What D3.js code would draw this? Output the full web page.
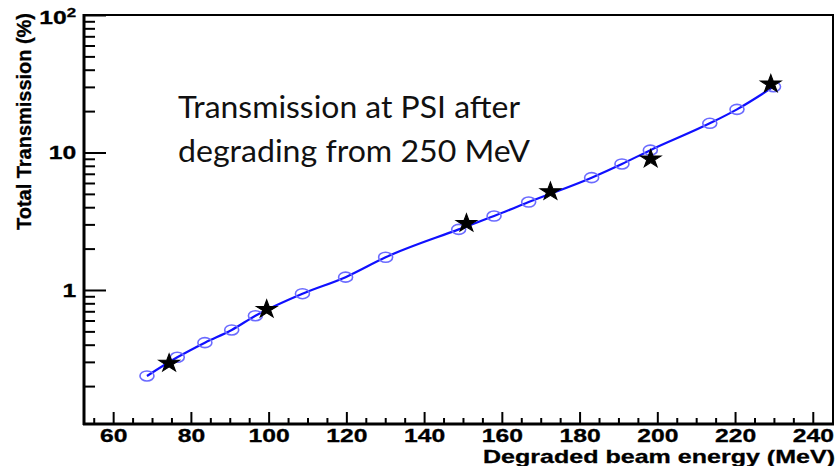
<!DOCTYPE html>
<html>
<head>
<meta charset="utf-8">
<script src="https://cdn.jsdelivr.net/npm/d3@7"></script>
<style>
  body { margin: 0; background: #fff; }
  svg { display: block; }
  .tick text { font-family: "Liberation Sans", Arial, sans-serif; font-weight: bold; }
</style>
</head>
<body>
<svg id="chart" width="836" height="466"></svg>
<script>
// simulated / measured transmission (open circles, blue line)
const energyMeV = [68.7, 76.5, 83.6, 90.5, 96.6, 108.7, 119.8, 130.1, 148.9, 158.0, 166.9, 183.1, 190.9, 198.2, 213.5, 220.5, 229.9];
const transmission = [0.237, 0.324, 0.414, 0.512, 0.650, 0.94, 1.24, 1.73, 2.76, 3.45, 4.36, 6.56, 8.25, 10.4, 16.3, 20.6, 30.1];

// stars
const starEnergy = [74.4, 99.5, 150.9, 172.5, 198.3, 229.2];
const starTransmission = [0.293, 0.723, 3.05, 5.19, 8.97, 31.5];

const xMajor = [60, 80, 100, 120, 140, 160, 180, 200, 220, 240];
const xMinor = d3.range(55, 245, 5).filter((v) => v % 20 !== 0);
const yMajor = [1, 10, 100];
const yMinor = [0.2, 0.3, 0.4, 0.5, 0.6, 0.7, 0.8, 0.9, 2, 3, 4, 5, 6, 7, 8, 9, 20, 30, 40, 50, 60, 70, 80, 90];

const svg = d3.select("#chart");
const mLeft = 84, mRight = 833, mTop = 15, mBottom = 424;
const stretch = 1.3; // les textes de l'image sont étirés horizontalement

const x = d3.scaleLinear().domain([52.5, 245.2]).range([mLeft, mRight]);
const y = d3.scaleLog().domain([0.106, 100]).range([mBottom, mTop]);

// axe X : graduations vers le haut
svg.append("g")
  .attr("transform", `translate(0,${mBottom})`)
  .call(d3.axisBottom(x).tickValues(xMinor).tickSizeInner(-6).tickSizeOuter(0).tickFormat(""))
  .call((g) => g.select(".domain").remove())
  .selectAll("line").attr("stroke", "#000").attr("stroke-width", 2);

const xAxis = svg.append("g")
  .attr("transform", `translate(0,${mBottom})`)
  .call(d3.axisBottom(x).tickValues(xMajor).tickSizeInner(-12).tickSizeOuter(0).tickPadding(5));
xAxis.select(".domain").remove();
xAxis.selectAll("line").attr("stroke", "#000").attr("stroke-width", 2);
xAxis.selectAll("text")
  .attr("font-size", 19)
  .attr("fill", "#000")
  .attr("stroke", "#000").attr("stroke-width", 0.3)
  .attr("transform", `scale(${stretch},1)`);

// axe Y : graduations vers la droite
svg.append("g")
  .attr("transform", `translate(${mLeft},0)`)
  .call(d3.axisLeft(y).tickValues(yMinor).tickSizeInner(-11).tickSizeOuter(0).tickFormat(""))
  .call((g) => g.select(".domain").remove())
  .selectAll("line").attr("stroke", "#000").attr("stroke-width", 2);

const yAxis = svg.append("g")
  .attr("transform", `translate(${mLeft},0)`)
  .call(d3.axisLeft(y).tickValues(yMajor).tickSizeInner(-22).tickSizeOuter(0).tickPadding(6)
    .tickFormat((d) => (d === 100 ? "10" : d3.format("d")(d))));
yAxis.select(".domain").remove();
yAxis.selectAll("line").attr("stroke", "#000").attr("stroke-width", 2);
yAxis.selectAll("text")
  .attr("font-size", 19)
  .attr("fill", "#000")
  .attr("stroke", "#000").attr("stroke-width", 0.3)
  .attr("transform", `scale(${stretch},1)`);
yAxis.selectAll(".tick")
  .filter((d) => d === 100)
  .select("text")
  .attr("dy", "0.45em")
  .append("tspan")
  .attr("font-size", 13)
  .attr("dy", "-0.55em")
  .text("2");

// cadre
svg.append("rect")
  .attr("x", mLeft).attr("y", mTop)
  .attr("width", mRight - mLeft).attr("height", mBottom - mTop)
  .attr("fill", "none").attr("stroke", "#000").attr("stroke-width", 2);
svg.append("line").attr("x1", mLeft).attr("x2", mLeft).attr("y1", mTop - 1).attr("y2", mBottom + 1)
  .attr("stroke", "#000").attr("stroke-width", 3);
svg.append("line").attr("x1", mLeft - 1).attr("x2", mRight + 1).attr("y1", mBottom).attr("y2", mBottom)
  .attr("stroke", "#000").attr("stroke-width", 3);

// titres des axes
svg.append("text")
  .attr("x", 835).attr("y", 463)
  .attr("text-anchor", "end")
  .attr("font-family", "Liberation Sans, Arial, sans-serif")
  .attr("font-weight", "bold").attr("font-size", 19)
  .attr("stroke", "#000").attr("stroke-width", 0.3)
  .attr("textLength", 352).attr("lengthAdjust", "spacingAndGlyphs")
  .text("Degraded beam energy (MeV)");

svg.append("text")
  .attr("transform", "translate(31,13) rotate(-90)")
  .attr("text-anchor", "end")
  .attr("font-family", "Liberation Sans, Arial, sans-serif")
  .attr("font-weight", "bold").attr("font-size", 20)
  .attr("stroke", "#000").attr("stroke-width", 0.3)
  .attr("textLength", 217).attr("lengthAdjust", "spacingAndGlyphs")
  .text("Total Transmission (%)");

// annotation
const note = ["Transmission at PSI after", "degrading from 250 MeV"];
const noteLen = [342, 352];
svg.selectAll(".note")
  .data(note)
  .enter()
  .append("text")
  .attr("class", "note")
  .attr("x", 178)
  .attr("y", (d, i) => 118 + i * 44)
  .attr("font-family", "Lato, 'Open Sans', sans-serif")
  .attr("font-size", 30)
  .attr("fill", "#111")
  .attr("textLength", (d, i) => noteLen[i])
  .attr("lengthAdjust", "spacingAndGlyphs")
  .text((d) => d);

// courbe
const points = energyMeV.map((e, i) => ({ e, t: transmission[i] }));
const line = d3.line()
  .x((d) => x(d.e))
  .y((d) => y(d.t))
  .curve(d3.curveMonotoneX);

svg.append("path")
  .datum(points)
  .attr("d", line)
  .attr("fill", "none")
  .attr("stroke", "#1010ff")
  .attr("stroke-width", 2.2);

svg.selectAll(".circ")
  .data(points)
  .enter()
  .append("ellipse")
  .attr("class", "circ")
  .attr("cx", (d) => x(d.e))
  .attr("cy", (d) => y(d.t))
  .attr("rx", 7)
  .attr("ry", 5)
  .attr("fill", "none")
  .attr("stroke", "#6b6bff")
  .attr("stroke-width", 1.6);

const stars = starEnergy.map((e, i) => ({ e, t: starTransmission[i] }));
svg.selectAll(".star")
  .data(stars)
  .enter()
  .append("path")
  .attr("class", "star")
  .attr("d", d3.symbol(d3.symbolStar).size(100))
  .attr("transform", (d) => `translate(${x(d.e)},${y(d.t)}) scale(1.15,1)`)
  .attr("fill", "#000")
  .attr("stroke", "#000")
  .attr("stroke-width", 1);
</script>
</body>
</html>
